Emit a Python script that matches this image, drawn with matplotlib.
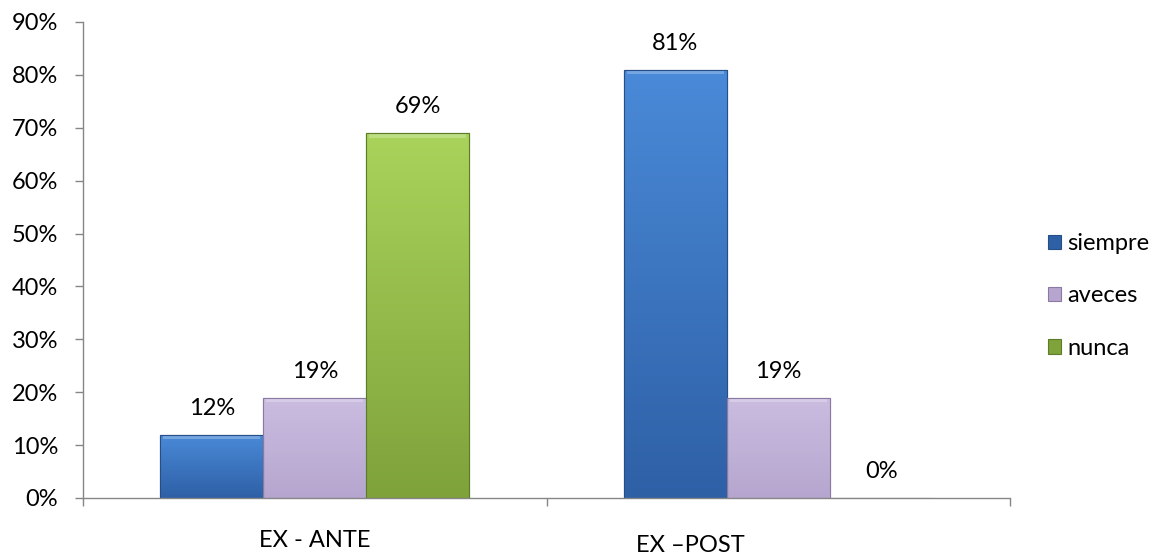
import numpy as np
import matplotlib.pyplot as plt
from matplotlib.colors import LinearSegmentedColormap
from matplotlib.patches import Rectangle
import matplotlib.transforms as mtransforms

plt.rcParams['font.family'] = ['Lato', 'DejaVu Sans']

# datos
categorias = ['EX - ANTE', 'EX \u2013POST']
series = ['siempre', 'aveces', 'nunca']
siempre = [12, 81]
aveces = [19, 19]
nunca = [69, 0]
valores = [siempre, aveces, nunca]
yticks = [0, 10, 20, 30, 40, 50, 60, 70, 80, 90]

# colores (arriba, abajo, borde)
colores = {
    'siempre': ('#4a8ad8', '#2e60a6', '#264f88'),
    'aveces': ('#cabde0', '#b6a6cf', '#8a7aa3'),
    'nunca': ('#a9d35b', '#7fa23b', '#5c7c28'),
}

fig = plt.figure(figsize=(11.76, 5.58), dpi=100)
ax = fig.add_axes([83/1176, 60/558, 927/1176, 476/558])

n = len(series)
ancho = 1 / (n + 1.5)
x = np.arange(len(categorias))

grad = np.linspace(1, 0, 256).reshape(-1, 1)

for i, nombre in enumerate(series):
    top, bot, borde = colores[nombre]
    pos = x + (i - (n - 1) / 2) * ancho
    bars = ax.bar(pos, valores[i], width=ancho, color=bot, edgecolor=borde,
                  linewidth=0.8, label=nombre, zorder=2)
    cmap = LinearSegmentedColormap.from_list(nombre, [bot, top])
    for b, v in zip(bars, valores[i]):
        if v <= 0:
            continue
        bx, by = b.get_x(), b.get_y()
        bw, bh = b.get_width(), b.get_height()
        im = ax.imshow(grad, extent=[bx, bx + bw, by, by + bh], aspect='auto',
                       cmap=cmap, vmin=0, vmax=1, zorder=2.1)
        im.set_clip_path(b)
        # borde claro arriba (efecto bisel)
        ax.add_patch(Rectangle((bx + bw * 0.03, by + bh - 0.9), bw * 0.94, 0.9,
                               facecolor='white', alpha=0.25, lw=0, zorder=2.2))
        ax.add_patch(Rectangle((bx, by), bw, bh, fill=False, edgecolor=borde,
                               lw=0.8, zorder=2.3))
    for p, v in zip(pos, valores[i]):
        ax.annotate(f'{v}%', (p, v), xytext=(0, 19), textcoords='offset points',
                    ha='center', va='center', fontsize=17)

ax.set_xlim(-0.5, len(categorias) - 0.5)
ax.set_ylim(0, 90)

ax.set_yticks(yticks)
ax.set_yticklabels([f'{t}%' for t in yticks], fontsize=17)
ax.tick_params(axis='y', length=6, width=1, color='#868686', pad=12)

ax.set_xticks(np.arange(len(categorias) + 1) - 0.5)
ax.set_xticklabels([])
ax.tick_params(axis='x', which='major', length=6, width=1, color='#868686')
ax.set_xticks(x, minor=True)
ax.set_xticklabels(categorias, minor=True, fontsize=17)
ax.tick_params(axis='x', which='minor', length=0, pad=23)

# la etiqueta EX -POST esta corrida a la izquierda en el original
lbls = ax.get_xticklabels(minor=True)
lbls[1].set_transform(lbls[1].get_transform() +
                      mtransforms.ScaledTranslation(-88/100, -5/100, fig.dpi_scale_trans))

for s in ['top', 'right']:
    ax.spines[s].set_visible(False)
for s in ['left', 'bottom']:
    ax.spines[s].set_color('#868686')
    ax.spines[s].set_linewidth(1)

fig.legend(loc='center left', bbox_to_anchor=(1048/1176, 1 - 296/558),
           frameon=False, fontsize=17, handlelength=0.55, handleheight=0.55,
           handletextpad=0.25, labelspacing=1.33, borderpad=0, borderaxespad=0)

fig.savefig('out.png', dpi=100)
